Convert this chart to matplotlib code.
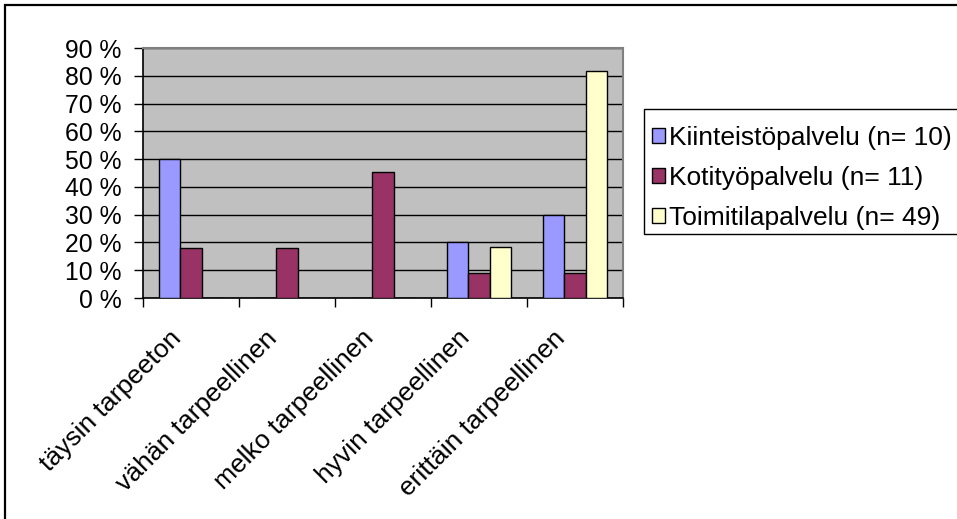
import numpy as np
import matplotlib
matplotlib.use("Agg")
import matplotlib.pyplot as plt
from matplotlib.patches import Rectangle
from matplotlib.transforms import ScaledTranslation

plt.rcParams['font.family'] = ['Liberation Sans', 'DejaVu Sans']

categories = ["täysin tarpeeton", "vähän tarpeellinen", "melko tarpeellinen",
              "hyvin tarpeellinen", "erittäin tarpeellinen"]
series_names = ["Kiinteistöpalvelu (n= 10)", "Kotityöpalvelu (n= 11)", "Toimitilapalvelu (n= 49)"]
kiinteisto = [50.0, 0.0, 0.0, 20.0, 30.0]
kotityo = [18.18, 18.18, 45.45, 9.09, 9.09]
toimitila = [0.0, 0.0, 0.0, 18.37, 81.63]
colors = ["#9999FF", "#993366", "#FFFFCC"]
yticks = [0, 10, 20, 30, 40, 50, 60, 70, 80, 90]
ytick_labels = ["0 %", "10 %", "20 %", "30 %", "40 %", "50 %", "60 %", "70 %", "80 %", "90 %"]

W, H = 957, 519
fig = plt.figure(figsize=(W / 100, H / 100), dpi=100)
ax = fig.add_axes([143 / W, 1 - 298 / H, (623 - 143) / W, (298 - 48) / H])
ax.set_facecolor("#C0C0C0")

x = np.arange(len(categories))
w = 1 / 4.5
series = [kiinteisto, kotityo, toimitila]
handles = []
for i, (vals, c, name) in enumerate(zip(series, colors, series_names)):
    b = ax.bar(x + (i - 1) * w, vals, width=w, color=c, edgecolor="black",
               linewidth=1.0, label=name, zorder=3)
    handles.append(b)

ax.set_xlim(-0.5, len(categories) - 0.5)
ax.set_ylim(0, 90)
ax.set_yticks(yticks)
ax.set_yticklabels(ytick_labels, fontsize=17.8)
ax.yaxis.grid(True, color="black", linewidth=1.0, zorder=1)
ax.set_axisbelow(True)

ax.set_xticks(np.arange(-0.5, len(categories), 1.0))
ax.set_xticklabels([])
ax.set_xticks(x, minor=True)
ax.set_xticklabels(categories, minor=True, rotation=45, ha="right", va="top", fontsize=19)
ax.tick_params(axis="x", which="minor", length=0, pad=20)
ax.tick_params(axis="x", which="major", length=6.5, width=1.0, direction="out")
ax.tick_params(axis="y", length=6.5, width=1.0, direction="out", pad=9)
shift = ScaledTranslation(-5 / 100, 0, fig.dpi_scale_trans)
for lab in ax.get_xticklabels(minor=True):
    lab.set_transform(lab.get_transform() + shift)

for s in ["top", "right"]:
    ax.spines[s].set_color("#808080")
    ax.spines[s].set_linewidth(1.5)
for s in ["left", "bottom"]:
    ax.spines[s].set_color("black")
    ax.spines[s].set_linewidth(1.2)

# legend frame (extends beyond right edge of image)
fig.patches.append(Rectangle((644 / W, 1 - 234 / H), (980 - 644) / W, (234 - 109) / H,
                             transform=fig.transFigure, facecolor="white",
                             edgecolor="black", linewidth=1.0, zorder=0))
leg = fig.legend(handles=handles, labels=series_names, loc="upper left",
                 bbox_to_anchor=(652 / W, 1 - 126 / H), frameon=False, fontsize=19,
                 handlelength=0.5, handleheight=0.5, handletextpad=0.15,
                 labelspacing=0.6, borderpad=0.0, borderaxespad=0)

# outer chart border (right/bottom lie outside the image)
fig.patches.append(Rectangle((5 / W, -0.1), 1.2, 1.1 - 5 / H, transform=fig.transFigure,
                             facecolor="none", edgecolor="black", linewidth=1.6, zorder=0))

fig.savefig("out.png", dpi=100)
